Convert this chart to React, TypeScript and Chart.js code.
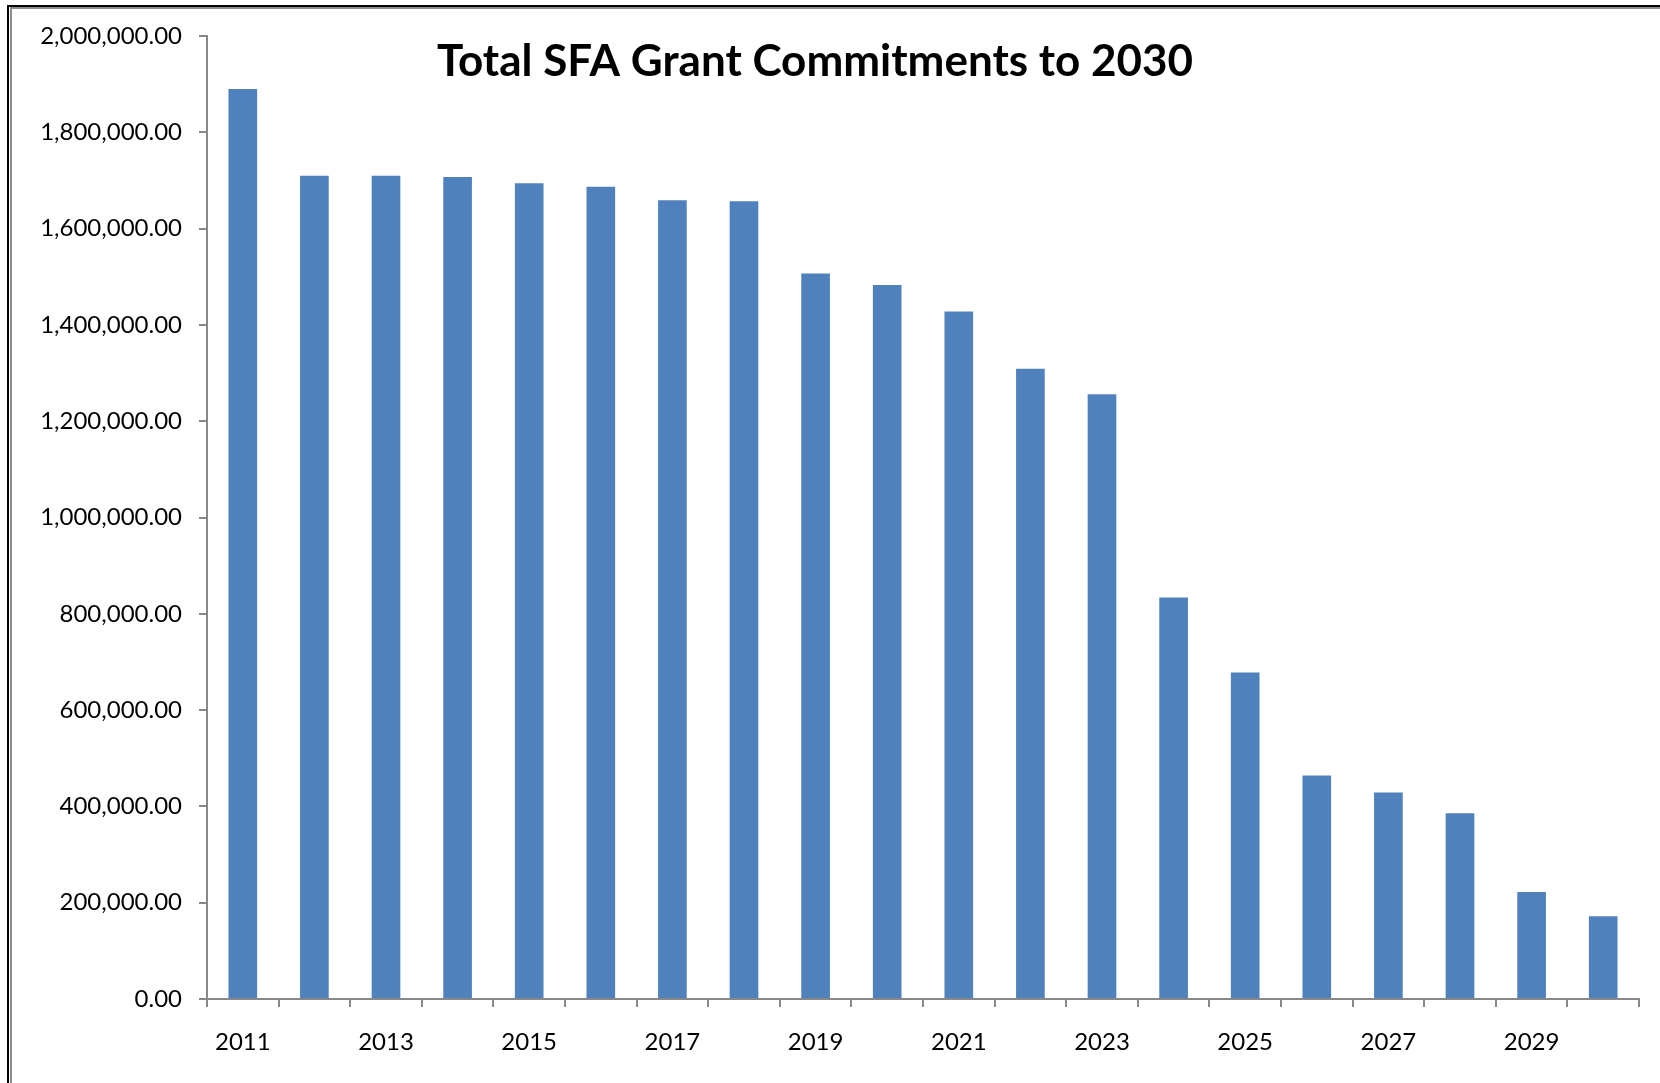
import React, { useEffect, useRef } from "react";
import { Chart, registerables } from "chart.js";

Chart.register(...registerables);

const years: string[] = [
  "2011", "2012", "2013", "2014", "2015", "2016", "2017", "2018", "2019", "2020",
  "2021", "2022", "2023", "2024", "2025", "2026", "2027", "2028", "2029", "2030",
];

const commitments: number[] = [
  1890000, 1710000, 1710000, 1707000, 1694000, 1687000, 1659000, 1657000, 1507000, 1483000,
  1428000, 1309000, 1256000, 834000, 678000, 464000, 429000, 386000, 222000, 172000,
];

const yMin = 0;
const yMax = 2000000;
const yStep = 200000;

const titleText = "Total SFA Grant Commitments to 2030";

const titlePlugin = {
  id: "overlayTitle",
  afterDraw(chart: any) {
    const ctx = chart.ctx;
    ctx.save();
    ctx.font = "bold 44px Lato";
    ctx.fillStyle = "#000";
    ctx.textAlign = "center";
    ctx.textBaseline = "middle";
    ctx.fillText(titleText, 815, 62);
    ctx.restore();
  },
};

export default function App() {
  const ref = useRef<HTMLCanvasElement | null>(null);

  useEffect(() => {
    document.body.style.margin = "0";
    const canvas = ref.current;
    if (!canvas) return;
    const chart = new Chart(canvas, {
      type: "bar",
      data: {
        labels: years,
        datasets: [
          {
            data: commitments,
            backgroundColor: "#4F81BD",
            borderWidth: 0,
            barPercentage: 0.4,
            categoryPercentage: 1,
          },
        ],
      },
      options: {
        animation: false,
        responsive: false,
        maintainAspectRatio: false,
        devicePixelRatio: 1,
        layout: { padding: { top: 36, right: 21, left: 0, bottom: 0 } },
        plugins: {
          legend: { display: false },
          title: { display: false },
          tooltip: { enabled: false },
        },
        scales: {
          x: {
            offset: true,
            afterFit(scale: any) {
              scale.height = 84;
            },
            grid: {
              offset: true,
              drawOnChartArea: false,
              drawTicks: true,
              tickLength: 8,
              color: "#888888",
              lineWidth: 2,
            },
            border: { display: true, color: "#888888", width: 2 },
            ticks: {
              autoSkip: false,
              maxRotation: 0,
              padding: 21,
              color: "#000",
              font: { family: "Lato", size: 24 },
              callback: (_v: any, i: number) => (i % 2 === 0 ? years[i] : ""),
            },
          },
          y: {
            min: yMin,
            max: yMax,
            afterFit(scale: any) {
              scale.width = 207;
            },
            grid: {
              drawOnChartArea: false,
              drawTicks: true,
              tickLength: 8,
              color: "#888888",
              lineWidth: 2,
            },
            border: { display: true, color: "#888888", width: 2 },
            ticks: {
              stepSize: yStep,
              padding: 17,
              color: "#000",
              font: { family: "Lato", size: 24 },
              callback: (v: any) =>
                Number(v).toLocaleString("en-US", {
                  minimumFractionDigits: 2,
                  maximumFractionDigits: 2,
                }),
            },
          },
        },
      },
      plugins: [titlePlugin],
    });
    return () => chart.destroy();
  }, []);

  return (
    <div style={{ position: "relative", width: 1660, height: 1083, background: "#fff", overflow: "hidden" }}>
      <canvas ref={ref} width={1660} height={1083} style={{ position: "absolute", left: 0, top: 0 }} />
      <div style={{ position: "absolute", left: 7, top: 5, right: 0, bottom: 0, borderTop: "2px solid #000", borderLeft: "2px solid #000", pointerEvents: "none" }} />
      <div style={{ position: "absolute", left: 10, top: 7, right: 0, bottom: 0, borderTop: "2px solid #8c8c8c", borderLeft: "2px solid #8c8c8c", pointerEvents: "none" }} />
    </div>
  );
}
